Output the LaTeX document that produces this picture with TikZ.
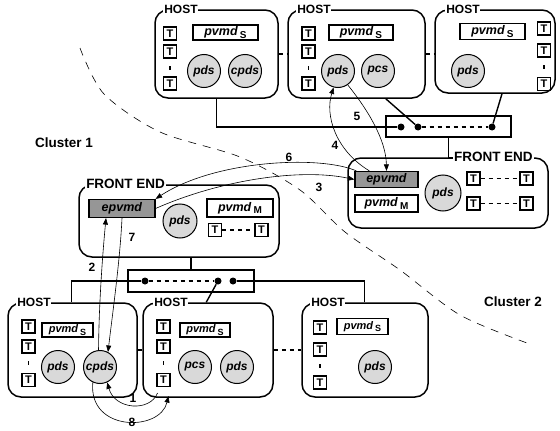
\documentclass[tikz,border=0pt]{standalone}
\usepackage{fontspec}
\setmainfont{Liberation Sans}
\usetikzlibrary{arrows.meta,positioning,calc}
\definecolor{procgray}{RGB}{217,217,217}
\definecolor{epgray}{RGB}{150,150,150}
\newcommand{\fsz}[1]{\fontsize{#1}{#1}\selectfont}
\newcommand{\pvmdlbl}[2]{\textit{pvmd}\,\raisebox{-2.5pt}{\fsz{#2}#1}}
\tikzset{
  hostbox/.style={draw, line width=1.5pt, rounded corners=13pt, inner sep=0pt},
  hostlbl/.style={fill=white, inner sep=0.8pt, anchor=west, font=\bfseries\fsz{12}},
  felbl/.style={hostlbl, font=\bfseries\fsz{13.5}},
  tbox/.style={draw, line width=1.2pt, minimum width=13pt, minimum height=13pt, inner sep=0pt, font=\bfseries\fsz{11}},
  vmdbox/.style={draw, line width=1.2pt, inner sep=0pt, minimum height=15pt, font=\bfseries\fsz{12.5}},
  smallvmd/.style={vmdbox, font=\bfseries\fsz{11}},
  epbox/.style={vmdbox, fill=epgray},
  proc/.style={circle, draw, line width=1pt, fill=procgray, minimum size=33pt, inner sep=0pt, font=\bfseries\itshape\fsz{12}},
  netbox/.style={draw, line width=1.3pt, inner sep=0pt},
  netdot/.style={circle, fill, inner sep=0pt, minimum size=7pt},
  link/.style={line width=1.4pt},
  dots/.style={line width=1.3pt, dash pattern=on 4pt off 4pt},
  tdots/.style={line width=1.3pt, dash pattern=on 0pt off 7.5pt on 4pt off 7.5pt},
  msg/.style={-{Triangle[length=6.5pt,width=5pt]}, line width=0.6pt},
  num/.style={font=\bfseries\fsz{12}},
  clus/.style={font=\bfseries\fsz{13.5}},
}

\begin{document}
\begin{tikzpicture}[x=1pt, y=-1pt]
  \useasboundingbox (0,0) rectangle (560,431);
  % border between the two clusters
  \draw[line width=0.6pt, dash pattern=on 8pt off 7pt] plot[smooth] coordinates {(80,48) (104,94) (160,132) (240,157) (300,190) (345,232) (400,270) (460,315) (527,343)};
  \node[clus] (c1) at (64,143) {Cluster 1};
  \node[clus] (c2) at (513,302) {Cluster 2};

  % top hosts
  \node[hostbox, minimum width=123pt, minimum height=88pt] (th1) at (216.5,54) {};
  \node[hostlbl] (th1l) at ($(th1.north west)+(9,0)$) {HOST};
  \node[tbox] (th1t1) at (170,33.5) {T};
  \node[tbox] (th1t2) at (170,51.5) {T};
  \node[tbox] (th1t3) at (170,83.5) {T};
  \node[vmdbox, minimum width=65pt] (th1v) at (225.5,32.5) {\pvmdlbl{S}{10}};
  \node[proc] (th1pds) at (204,71) {pds};
  \node[proc] (th1cpds) at (245,71) {cpds};

  \node[hostbox, minimum width=137pt, minimum height=88pt] (th2) at (356.5,54) {};
  \node[hostlbl] (th2l) at ($(th2.north west)+(9,0)$) {HOST};
  \node[tbox] (th2t1) at (308.5,33.5) {T};
  \node[tbox] (th2t2) at (308.5,51.5) {T};
  \node[tbox] (th2t3) at (308.5,83.5) {T};
  \node[vmdbox, minimum width=64pt] (th2v) at (361,32.5) {\pvmdlbl{S}{10}};
  \node[proc] (th2pds) at (338,71) {pds};
  \node[proc] (th2pcs) at (378,71) {pcs};

  \node[hostbox, minimum width=120pt, minimum height=83pt] (th3) at (495,51.5) {};
  \node[hostlbl] (th3l) at ($(th3.north west)+(11,0)$) {HOST};
  \node[tbox] (th3t1) at (544,28.5) {T};
  \node[tbox] (th3t2) at (544,50.5) {T};
  \node[tbox] (th3t3) at (544,84) {T};
  \node[vmdbox, minimum width=65pt, minimum height=16pt] (th3v) at (492.5,31.5) {\pvmdlbl{S}{10}};
  \node[proc] (th3pds) at (468,71) {pds};

  \draw[tdots] (th1t2) -- (th1t3);
  \draw[tdots] (th2t2) -- (th2t3);
  \draw[tdots] (th3t2) -- (th3t3);
  \draw[dots] (th1.east) -- (th2.west);
  \draw[dots] (th2.east) -- (th2.east -| th3.west);

  % network of cluster 2
  \node[netbox, minimum width=125pt, minimum height=21pt] (net1) at (448.5,126.5) {};
  \node[netdot] (net1d1) at (401,127) {};
  \node[netdot] (net1d2) at (418,127) {};
  \node[netdot] (net1d3) at (492,127) {};
  \draw[dots] (net1d2) -- (net1d3);
  \draw[link] (th1.south) |- (net1d1);
  \draw[link] ($(th2.south east)+(-40,0)$) -- (net1d2);
  \draw[link] ($(th3.south)+(7,0)$) -- (net1d3);

  % front end of cluster 2
  \node[hostbox, minimum width=200pt, minimum height=70pt] (fe2) at (448,193) {};
  \node[felbl, anchor=east] (fe2l) at ($(fe2.north east)+(-15,0)$) {FRONT END};
  \node[epbox, minimum width=63pt, minimum height=16pt] (fe2ep) at (386.5,179.5) {\textit{epvmd}};
  \node[vmdbox, minimum width=63pt, minimum height=17pt] (fe2v) at (386.5,203.5) {\pvmdlbl{M}{10}};
  \node[proc, minimum size=36pt] (fe2pds) at (443,193) {pds};
  \node[tbox] (fe2t1) at (473.5,178.5) {T};
  \node[tbox] (fe2t2) at (526.5,178.5) {T};
  \node[tbox] (fe2t3) at (473.5,203.5) {T};
  \node[tbox] (fe2t4) at (526.5,203.5) {T};
  \draw[dots] (fe2t1) -- (fe2t2);
  \draw[dots] (fe2t3) -- (fe2t4);
  \draw[link] (net1.south) |- (fe2l.west);

  % front end of cluster 1
  \node[hostbox, minimum width=200pt, minimum height=72pt] (fe1) at (179,221) {};
  \node[felbl] (fe1l) at ($(fe1.north west)+(7,0)$) {FRONT END};
  \node[epbox, minimum width=66pt, minimum height=18pt] (fe1ep) at (122,208.5) {\textit{epvmd}};
  \node[proc, minimum size=34pt] (fe1pds) at (180,221) {pds};
  \node[vmdbox, minimum width=66pt, minimum height=18pt] (fe1v) at (240,208) {\pvmdlbl{M}{10}};
  \node[tbox] (fe1t1) at (215,230) {T};
  \node[tbox] (fe1t2) at (261.5,230) {T};
  \draw[dots] (fe1t1) -- (fe1t2);

  % network of cluster 1
  \node[netbox, minimum width=126pt, minimum height=22pt] (net2) at (191,281) {};
  \node[netdot] (net2d1) at (145,281) {};
  \node[netdot] (net2d2) at (218,281) {};
  \node[netdot] (net2d3) at (233,281) {};
  \draw[dots] (net2d1) -- (net2d2);
  \draw[link] (net2.north) -- (net2.north |- fe1.south);

  % bottom hosts
  \node[hostbox, minimum width=129pt, minimum height=94pt] (bh1) at (72.5,350) {};
  \node[hostlbl] (bh1l) at ($(bh1.north west)+(9,0)$) {HOST};
  \node[tbox] (bh1t1) at (28.5,326.5) {T};
  \node[tbox] (bh1t2) at (28.5,346.5) {T};
  \node[tbox] (bh1t3) at (28.5,380) {T};
  \node[smallvmd, minimum width=51pt, minimum height=14pt] (bh1v) at (67.5,330) {\pvmdlbl{S}{9}};
  \node[proc] (bh1pds) at (58,367) {pds};
  \node[proc] (bh1cpds) at (100,367) {cpds};

  \node[hostbox, minimum width=130pt, minimum height=94pt] (bh2) at (208,350) {};
  \node[hostlbl] (bh2l) at ($(bh2.north west)+(11,0)$) {HOST};
  \node[tbox] (bh2t1) at (163.5,326.5) {T};
  \node[tbox] (bh2t2) at (163.5,346.5) {T};
  \node[tbox] (bh2t3) at (163.5,380) {T};
  \node[smallvmd, minimum width=50pt, minimum height=14pt] (bh2v) at (205,330) {\pvmdlbl{S}{9}};
  \node[proc] (bh2pcs) at (195,367) {pcs};
  \node[proc] (bh2pds) at (237,367) {pds};

  \node[hostbox, minimum width=126pt, minimum height=94pt] (bh3) at (365,350) {};
  \node[hostlbl] (bh3l) at ($(bh3.north west)+(9,0)$) {HOST};
  \node[tbox] (bh3t1) at (320,327.5) {T};
  \node[tbox] (bh3t2) at (320,349.5) {T};
  \node[tbox] (bh3t3) at (320,382.5) {T};
  \node[smallvmd, minimum width=51pt, minimum height=16pt] (bh3v) at (362.5,326.5) {\pvmdlbl{S}{9}};
  \node[proc] (bh3pds) at (375,367) {pds};

  \draw[tdots] (bh1t2) -- (bh1t3);
  \draw[tdots] (bh2t2) -- (bh2t3);
  \draw[tdots] (bh3t2) -- (bh3t3);
  \draw[dots] (bh1.east) -- (bh2.west);
  \draw[dots] (bh2.east) -- (bh3.west);
  \draw[link] (net2d1) -| ($(bh1.north west)+(64,0)$);
  \draw[link] (net2d2) -- ($(bh2.north west)+(64,0)$);
  \draw[link] (net2d3) -| ($(bh3.north west)+(63,0)$);

  % messages
  \draw[msg] ($(bh2t3.south)+(-6,6)$) .. controls (150,412) and (115,410) .. (bh1cpds.-65);
  \draw[msg] (bh1cpds.95) .. controls (99,300) and (103,250) .. ($(fe1ep.south)+(-16,0)$);
  \draw[msg] (fe1ep.east) .. controls (220,180) and (300,168) .. (fe2ep.west);
  \draw[msg] ($(fe2ep.north west)+(15,0)$) .. controls (335,150) and (325,115) .. (th2pds.-105);
  \draw[msg] (th2pds.-55) .. controls (368,110) and (386,140) .. (fe2ep.north);
  \draw[msg] ($(fe2ep.north west)+(2,0)$) .. controls (320,155) and (215,160) .. (fe1ep.north east);
  \draw[msg] (fe1ep.south) .. controls (120,260) and (113,310) .. (bh1cpds.62);
  \draw[msg] (bh1cpds.-115) .. controls (88,432) and (160,432) .. ($(bh2t3.south)+(5,9)$);
  \node[num] (n1) at (133,398) {1};
  \node[num] (n2) at (92,267) {2};
  \node[num] (n3) at (319,187) {3};
  \node[num] (n4) at (335,145) {4};
  \node[num] (n5) at (357,116) {5};
  \node[num] (n6) at (289,157) {6};
  \node[num] (n7) at (132,237) {7};
  \node[num] (n8) at (132,422) {8};
\end{tikzpicture}
\end{document}
